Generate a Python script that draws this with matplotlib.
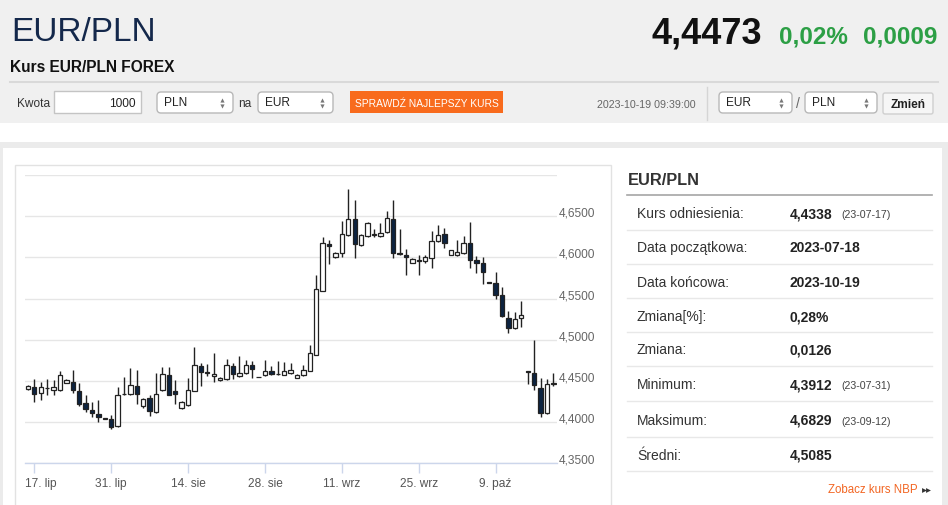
import matplotlib
matplotlib.use("Agg")
import matplotlib.pyplot as plt
from matplotlib.patches import Rectangle, FancyBboxPatch
from matplotlib.transforms import ScaledTranslation
import numpy as np
import pandas as pd

plt.rcParams['font.family'] = ['Liberation Sans', 'DejaVu Sans']

# ---------------- data ----------------
dates = [d for d in pd.date_range("2023-07-16", "2023-10-19", freq="D") if d.weekday() != 5]

opens = [4.4399, 4.4427, 4.4354, 4.4413, 4.4387, 4.4387, 4.4476, 4.4488, 4.4379, 4.4233,
         4.4148, 4.4104, 4.4045, 4.4043, 4.3950, 4.4336, 4.4338, 4.4435, 4.4193, 4.4294,
         4.4124, 4.4387, 4.4577, 4.4379, 4.4172, 4.4205, 4.4375, 4.4682, 4.4605, 4.4561,
         4.4508, 4.4520, 4.4678, 4.4561, 4.4597, 4.4690, 4.4548, 4.4569, 4.4621, 4.4585,
         4.4577, 4.4601, 4.4536, 4.4569, 4.4621, 4.4820, 4.5596, 4.6163, 4.5999, 4.6056,
         4.6267, 4.6462, 4.6155, 4.6256, 4.6276, 4.6260, 4.6308, 4.6462, 4.6048, 4.6028,
         4.5936, 4.5964, 4.5952, 4.5993, 4.6199, 4.6280, 4.6033, 4.6025, 4.6053, 4.6175,
         4.5972, 4.5932, 4.5696, 4.5693, 4.5540, 4.5265, 4.5143, 4.5269, 4.4621, 4.4601,
         4.4419, 4.4112, 4.4466]
highs = [4.4455, 4.4528, 4.4488, 4.4528, 4.4516, 4.4621, 4.4520, 4.4629, 4.4480, 4.4334,
         4.4245, 4.4273, 4.4049, 4.4091, 4.4427, 4.4549, 4.4658, 4.4629, 4.4294, 4.4326,
         4.4601, 4.4670, 4.4670, 4.4508, 4.4257, 4.4540, 4.4913, 4.4718, 4.4702, 4.4840,
         4.4545, 4.4771, 4.4718, 4.4803, 4.4751, 4.4743, 4.4551, 4.4751, 4.4682, 4.4743,
         4.4731, 4.4718, 4.4580, 4.4690, 4.4933, 4.5790, 4.6248, 4.6215, 4.6060, 4.6438,
         4.6829, 4.6700, 4.6288, 4.6430, 4.6349, 4.6418, 4.6559, 4.6700, 4.6349, 4.6106,
         4.5989, 4.6033, 4.6033, 4.6316, 4.6389, 4.6357, 4.6090, 4.6207, 4.6256, 4.6430,
         4.6017, 4.6005, 4.5699, 4.5823, 4.5641, 4.5350, 4.5337, 4.5471, 4.4625, 4.5002,
         4.4540, 4.4528, 4.4597]
lows = [4.4387, 4.4245, 4.4265, 4.4334, 4.4326, 4.4375, 4.4472, 4.4358, 4.4197, 4.4124,
        4.4063, 4.4002, 4.4037, 4.3912, 4.3942, 4.4326, 4.4334, 4.4225, 4.4176, 4.4075,
        4.4116, 4.4379, 4.4326, 4.4217, 4.4164, 4.4197, 4.4375, 4.4435, 4.4561, 4.4488,
        4.4504, 4.4512, 4.4520, 4.4549, 4.4589, 4.4536, 4.4542, 4.4561, 4.4577, 4.4573,
        4.4569, 4.4589, 4.4533, 4.4561, 4.4617, 4.4812, 4.5588, 4.5916, 4.5995, 4.5999,
        4.6259, 4.5991, 4.6139, 4.6248, 4.6248, 4.6252, 4.6300, 4.5993, 4.6032, 4.5790,
        4.5932, 4.5782, 4.5936, 4.5871, 4.6187, 4.6118, 4.6030, 4.6017, 4.6045, 4.5871,
        4.5815, 4.5681, 4.5685, 4.5491, 4.5277, 4.5083, 4.5135, 4.5155, 4.4468, 4.4387,
        4.4063, 4.4104, 4.4439]
closes = [4.4439, 4.4338, 4.4427, 4.4417, 4.4427, 4.4569, 4.4516, 4.4387, 4.4225, 4.4164,
          4.4108, 4.4063, 4.4040, 4.3942, 4.4326, 4.4342, 4.4447, 4.4346, 4.4278, 4.4136,
          4.4338, 4.4589, 4.4334, 4.4338, 4.4245, 4.4395, 4.4690, 4.4609, 4.4600, 4.4581,
          4.4540, 4.4690, 4.4589, 4.4601, 4.4690, 4.4650, 4.4545, 4.4621, 4.4589, 4.4581,
          4.4617, 4.4638, 4.4577, 4.4638, 4.4840, 4.5612, 4.6179, 4.6142, 4.6056, 4.6279,
          4.6462, 4.6167, 4.6268, 4.6418, 4.6281, 4.6296, 4.6482, 4.6056, 4.6036, 4.5999,
          4.5985, 4.5952, 4.6005, 4.6199, 4.6268, 4.6179, 4.6086, 4.6066, 4.6179, 4.5972,
          4.5932, 4.5823, 4.5688, 4.5540, 4.5285, 4.5143, 4.5256, 4.5297, 4.4609, 4.4447,
          4.4112, 4.4468, 4.4473]

tick_dates = ["2023-07-17", "2023-07-31", "2023-08-14", "2023-08-28",
              "2023-09-11", "2023-09-25", "2023-10-09"]
tick_labels = ["17. lip", "31. lip", "14. sie", "28. sie", "11. wrz", "25. wrz", "9. paź"]
y_ticks = [4.35, 4.40, 4.45, 4.50, 4.55, 4.60, 4.65, 4.70]
y_tick_labels = ["4,3500", "4,4000", "4,4500", "4,5000", "4,5500", "4,6000", "4,6500", ""]

stat_labels = ["Kurs odniesienia:", "Data początkowa:", "Data końcowa:", "Zmiana[%]:",
               "Zmiana:", "Minimum:", "Maksimum:", "Średni:"]
stat_values = ["4,4338", "2023-07-18", "2023-10-19", "0,28%", "0,0126", "4,3912", "4,6829", "4,5085"]
stat_dates = ["(23-07-17)", "", "", "", "", "(23-07-31)", "(23-09-12)", ""]

# ---------------- figure ----------------
W, H = 948, 506
fig = plt.figure(figsize=(W / 100, H / 100), dpi=100)
fig.patch.set_facecolor("white")

bg = fig.add_axes([0, 0, 1, 1], zorder=0)
bg.set_xlim(0, W)
bg.set_ylim(H, 0)
bg.axis("off")

# page backgrounds
bg.add_patch(Rectangle((0, 0), W, 124, fc="#f0f0f0", ec="none"))
bg.add_patch(Rectangle((0, 143), W, H - 143, fc="#ebebeb", ec="none"))
bg.add_patch(Rectangle((3, 149), 939, H - 149, fc="white", ec="none"))
bg.add_patch(Rectangle((15, 166), 596, 360, fc="white", ec="#e2e2e2", lw=1))
bg.plot([10, 938], [83, 83], color="#d9d9d9", lw=1.5)

# header texts
bg.text(11, 41, "EUR/PLN", fontsize=24, color="#14284b", va="baseline", ha="left")
bg.text(10, 72, "Kurs EUR/PLN FOREX", fontsize=11.2, fontweight="bold", color="#111", va="baseline")
bg.text(762, 43, "4,4473", fontsize=26, fontweight="bold", color="#111", va="baseline", ha="right")
bg.text(779, 43, "0,02%", fontsize=17.5, fontweight="bold", color="#2c9f45", va="baseline", ha="left")
bg.text(937, 43, "0,0009", fontsize=17.5, fontweight="bold", color="#2c9f45", va="baseline", ha="right")

# controls row
bg.text(17, 104, "Kwota", fontsize=8.6, color="#333", va="center")
bg.add_patch(Rectangle((54, 92), 87, 22, fc="white", ec="#c4c4c4", lw=1))
bg.text(136, 104, "1000", fontsize=8.6, color="#222", va="center", ha="right")


def select(x0, x1, label):
    bg.add_patch(FancyBboxPatch((x0, 93), x1 - x0, 21,
                                boxstyle="round,pad=0,rounding_size=4",
                                fc="white", ec="#b8b8b8", lw=1))
    bg.text(x0 + 7, 103, label, fontsize=8.6, color="#222", va="center")
    bg.plot([x1 - 11], [100.5], marker="^", ms=3, color="#777", mec="none")
    bg.plot([x1 - 11], [106.5], marker="v", ms=3, color="#777", mec="none")


select(157, 233, "PLN")
bg.text(238, 104, "na", fontsize=8.6, color="#333", va="center")
select(258, 333, "EUR")
bg.add_patch(Rectangle((350, 92), 153, 22, fc="#f86b1d", ec="none"))
bg.text(426.5, 103.5, "SPRAWDŹ NAJLEPSZY KURS", fontsize=7.4, color="white", va="center", ha="center")
bg.text(597, 105, "2023-10-19 09:39:00", fontsize=7.7, color="#666", va="center")
bg.plot([707.5, 707.5], [88, 121], color="#d5d5d5", lw=1)
select(719, 792, "EUR")
bg.text(798, 104, "/", fontsize=10, color="#666", va="center", ha="center")
select(805, 877, "PLN")
bg.add_patch(FancyBboxPatch((883, 94), 50, 21, boxstyle="round,pad=0,rounding_size=2",
                            fc="#f6f6f6", ec="#cfcfcf", lw=1))
bg.text(908, 105, "Zmień", fontsize=8.6, fontweight="bold", color="#222", va="center", ha="center")

# right stats panel
bg.text(627.5, 180, "EUR/PLN", fontsize=11.8, fontweight="bold", color="#333", va="center")
bg.plot([627, 932], [195.5, 195.5], color="#a5a5a5", lw=1.2)
row_y = [214.3, 248.3, 282.7, 317.3, 350.5, 385.5, 421, 455.7]
sep_y = [231, 265, 299.3, 333.3, 367.3, 402.3, 438.3, 472.3]
for yy in sep_y:
    bg.plot([627, 932], [yy, yy], color="#e8e8e8", lw=1)
for lab, val, dt, yy in zip(stat_labels, stat_values, stat_dates, row_y):
    bg.text(637, yy, lab, fontsize=10, color="#333", va="center")
    bg.text(790, yy, val, fontsize=10, fontweight="bold", color="#222", va="center")
    if dt:
        bg.text(841, yy + 1, dt, fontsize=7.7, color="#444", va="center")
bg.text(828, 490, "Zobacz kurs NBP", fontsize=8.3, color="#f26522", va="center")
bg.plot([924.5, 928.5], [490.5, 490.5], ls="none", marker=">", ms=3.5, color="#333", mec="none")

# ---------------- candlestick chart ----------------
px_left, px_right, px_top, px_bottom = 25, 557, 176, 464.3
ax = fig.add_axes([px_left / W, (H - px_bottom) / H, (px_right - px_left) / W,
                   (px_bottom - px_top) / H], zorder=2)
ax.set_facecolor("none")

x = np.arange(len(dates))
o = np.array(opens); h = np.array(highs); l = np.array(lows); c = np.array(closes)
up = c >= o
ax.vlines(x, l, h, color="#222", lw=1, zorder=2)
body_bottom = np.minimum(o, c)
body_h = np.maximum(np.abs(c - o), 0.0002)
ax.bar(x[up], body_h[up], bottom=body_bottom[up], width=0.68, color="white",
       edgecolor="#222", lw=0.9, zorder=3)
ax.bar(x[~up], body_h[~up], bottom=body_bottom[~up], width=0.68, color="#0c2340",
       edgecolor="#222", lw=0.9, zorder=3)

ax.set_xlim(-0.45, 82.57)
ax.set_ylim(4.35, 4.70)

date_strs = [d.strftime("%Y-%m-%d") for d in dates]
tick_pos = [date_strs.index(t) for t in tick_dates]
ax.set_xticks(tick_pos)
ax.set_xticklabels(tick_labels, fontsize=8.6, color="#555")
ax.tick_params(axis="x", length=7, width=1, color="#ccd6eb", pad=3)

ax.yaxis.tick_right()
ax.set_yticks(y_ticks)
ax.set_yticklabels(y_tick_labels, fontsize=8.6, color="#666", ha="left")
ax.tick_params(axis="y", length=0, pad=1)
ax.grid(axis="y", color="#e6e6e6", lw=1)
ax.set_axisbelow(True)

up_off = ScaledTranslation(0, 5 / 100, fig.dpi_scale_trans)
for lab in ax.get_yticklabels():
    lab.set_transform(lab.get_transform() + up_off)
first = ax.get_xticklabels()[0]
first.set_ha("left")
first.set_transform(first.get_transform() + ScaledTranslation(-9.3 / 100, 0, fig.dpi_scale_trans))

for s in ["top", "right", "left"]:
    ax.spines[s].set_visible(False)
ax.spines["bottom"].set_color("#ccd6eb")
ax.spines["bottom"].set_linewidth(1)

fig.savefig("out.png", dpi=100, facecolor="white")
